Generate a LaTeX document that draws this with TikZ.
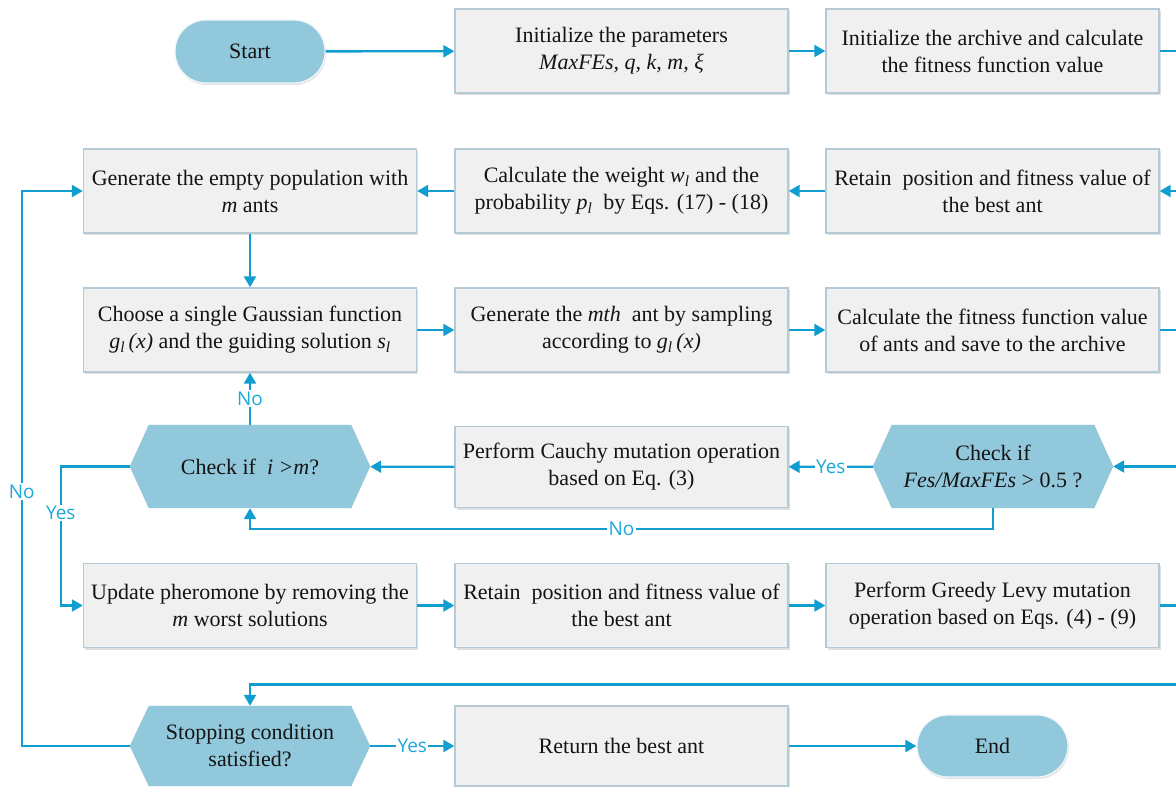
\documentclass[tikz,border=0pt]{standalone}
\usepackage{fontspec}
\setmainfont{Liberation Serif}
\newfontfamily\labfont{Open Sans}
\usetikzlibrary{arrows.meta,shadows,backgrounds}
\definecolor{conncol}{RGB}{16,158,208}
\definecolor{labcol}{RGB}{30,168,218}
\definecolor{termfill}{RGB}{146,200,220}
\definecolor{boxfill}{RGB}{240,240,240}
\definecolor{boxline}{RGB}{182,202,214}
\begin{document}
\begin{tikzpicture}[x=1pt,y=-1pt,
  every node/.style={font=\fontsize{22}{27}\selectfont, align=center, text=black!92},
  procbox/.style={rectangle, draw=boxline, line width=1.4pt, fill=boxfill,
    minimum width=333pt, minimum height=84pt, inner sep=2pt,
    drop shadow={shadow xshift=1.5pt, shadow yshift=-2pt, opacity=0.25, fill=gray}},
  termbox/.style={rectangle, rounded corners=31pt, draw=white!85!termfill, line width=1.2pt,
    fill=termfill, minimum width=150pt, minimum height=63pt,
    drop shadow={shadow xshift=1pt, shadow yshift=-2pt, opacity=0.2, fill=gray}},
  hexbox/.style={rectangle, minimum width=240pt, minimum height=83pt, inner sep=2pt},
  conn/.style={draw=conncol, line width=2.3pt, -{Triangle[length=11pt,width=12pt]}},
  lab/.style={font=\labfont\fontsize{19}{22}\selectfont, text=labcol, fill=white, inner sep=1.5pt}
]
\useasboundingbox (0,0) rectangle (1176,787);
\begin{scope}
\clip (0,0) rectangle (1176,787);
% row 1
\node[termbox] (start) at (250,51.5) {Start};
\node[procbox] (ip) at (621.5,51) {Initialize the parameters\\\textit{MaxFEs, q, k, m, ξ}};
\node[procbox] (arch) at (992.5,51) {Initialize the archive and calculate\\the fitness function value};
% row 2
\node[procbox] (gen) at (250,191) {Generate the empty population with\\\textit{m} ants};
\node[procbox] (wt) at (621.5,191) {Calculate the weight \textit{w}\textsubscript{\textit{l}} and the\\probability \textit{p}\textsubscript{\textit{l}}\ \ by Eqs. (17) - (18)};
\node[procbox] (ret1) at (992.5,191) {Retain\ \ position and fitness value of\\the best ant};
% row 3
\node[procbox] (cho) at (250,330) {Choose a single Gaussian function\\\textit{g}\textsubscript{\textit{l}}\,\textit{(x)} and the guiding solution \textit{s}\textsubscript{\textit{l}}};
\node[procbox] (mth) at (621.5,330) {Generate the \textit{mth}\ \ ant by sampling\\according to \textit{g}\textsubscript{\textit{l}}\,\textit{(x)}};
\node[procbox] (fit) at (992.5,330) {Calculate the fitness function value\\of ants and save to the archive};
% row 4
\node[hexbox] (chk) at (250,466.5) {Check if\ \ \textit{i >m}?};
\node[procbox, minimum height=81pt] (cau) at (621.5,467) {Perform Cauchy mutation operation\\based on Eq. (3)};
\node[hexbox] (fes) at (993,466.5) {Check if\\\textit{Fes/MaxFEs} > 0.5 ?};
% row 5
\node[procbox] (upd) at (250,605.5) {Update pheromone by removing the\\\textit{m} worst solutions};
\node[procbox] (ret2) at (621.5,605.5) {Retain\ \ position and fitness value of\\the best ant};
\node[procbox] (grd) at (992.5,605.5) {Perform Greedy Levy mutation\\operation based on Eqs. (4) - (9)};
% row 6
\node[hexbox, minimum height=80pt] (stp) at (250,746) {Stopping condition\\satisfied?};
\node[procbox, minimum height=80pt] (rtn) at (621.5,746) {Return the best ant};
\node[termbox, minimum width=151pt, minimum height=62pt] (end) at (992.5,746) {End};
\coordinate (j3) at (250,684.5);
% background and hexagons
\begin{pgfonlayer}{background}
\fill[white] (0,0) rectangle (1176,787);
\foreach \h in {chk,fes,stp}{
  \fill[gray, opacity=0.2, xshift=1pt, yshift=-2pt] (\h.west) -- ([xshift=19pt]\h.north west) -- ([xshift=-19pt]\h.north east) -- (\h.east) -- ([xshift=-19pt]\h.south east) -- ([xshift=19pt]\h.south west) -- cycle;
  \fill[termfill] (\h.west) -- ([xshift=19pt]\h.north west) -- ([xshift=-19pt]\h.north east) -- (\h.east) -- ([xshift=-19pt]\h.south east) -- ([xshift=19pt]\h.south west) -- cycle;
}
\end{pgfonlayer}
% connectors
\draw[conn] (start) -- (ip);
\draw[conn] (ip) -- (arch);
\draw[conn] (arch.east) -- ++(32,0) |- (ret1.east);
\draw[conn] (ret1) -- (wt);
\draw[conn] (wt) -- (gen);
\draw[conn] (gen) -- (cho);
\draw[conn] (cho) -- (mth);
\draw[conn] (mth) -- (fit);
\draw[conn] (fit.east) -- ++(32,0) |- (fes.east);
\draw[conn] (fes) -- node[lab]{Yes} (cau);
\draw[conn] (cau) -- (chk);
\draw[conn] (fes.south) -- ++(0,21) -| node[lab,pos=0.25]{No} (chk.south);
\draw[conn] (chk.north) -- node[lab]{No} (cho.south);
\draw[conn] (chk.west) -- ++(-69,0) |- node[lab,pos=0.167]{Yes} (upd.west);
\draw[conn] (upd) -- (ret2);
\draw[conn] (ret2) -- (grd);
\draw[conn] (grd.east) -- ++(32,0) |- (j3) -- (stp.north);
\draw[conn] (stp.west) -- ++(-108,0) |- node[lab,pos=0.229]{No} (gen.west);
\draw[conn] (stp) -- node[lab]{Yes} (rtn);
\draw[conn] (rtn) -- (end);
\end{scope}
\end{tikzpicture}
\end{document}
